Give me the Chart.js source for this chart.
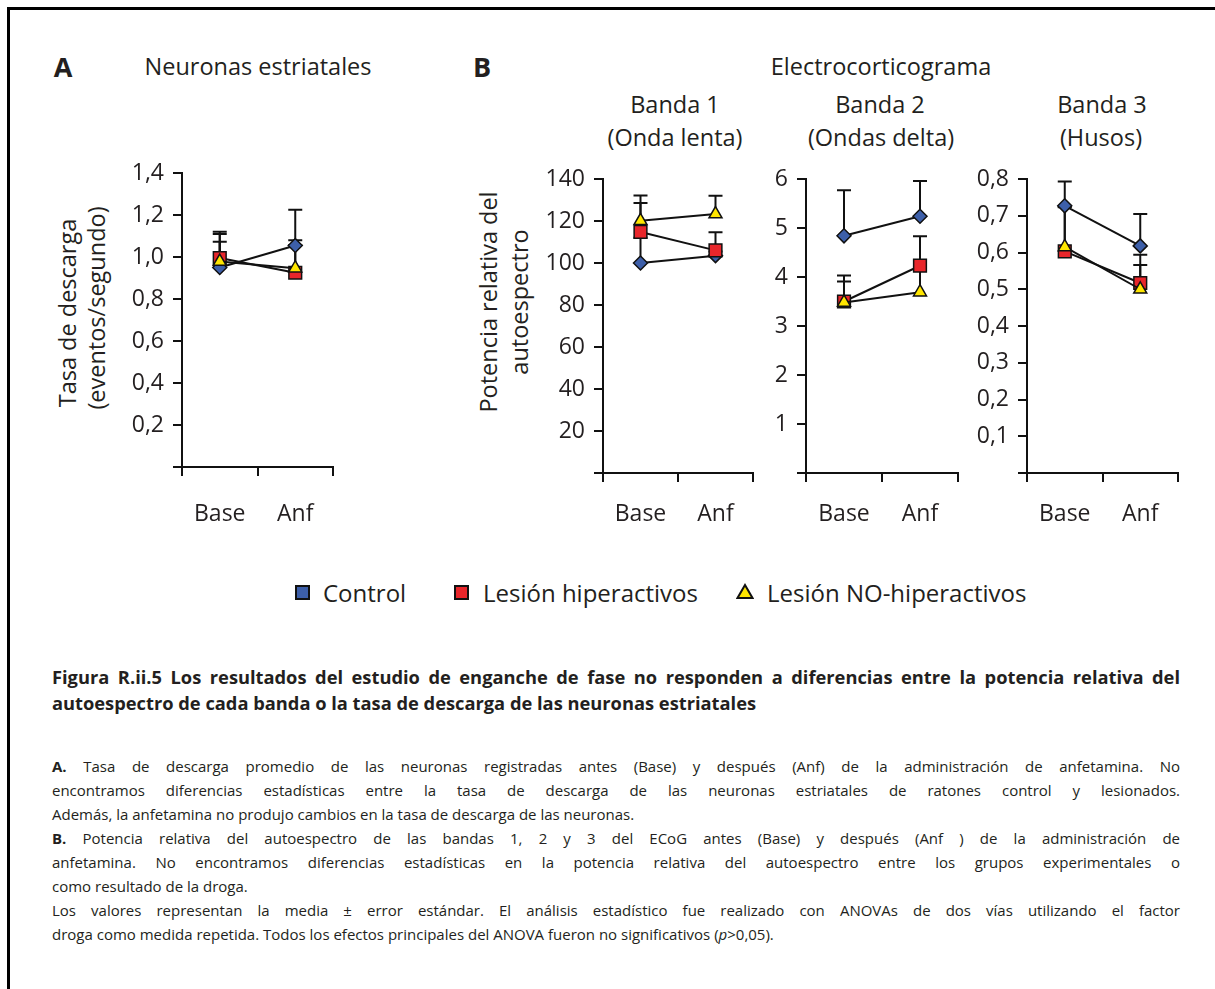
<!DOCTYPE html>
<html>
<head>
<meta charset="utf-8">
<script src="https://cdn.jsdelivr.net/npm/chart.js@4.4.1/dist/chart.umd.min.js"></script>
<style>
    body { margin: 0; background: #fff; font-family: "Open Sans", "Noto Sans", sans-serif; color: #231f20; }
    #page { position: relative; width: 1215px; height: 989px; overflow: hidden; }
    #frame { position: absolute; left: 7px; top: 7px; width: 1300px; height: 1100px; border-top: 3px solid #000; border-left: 3px solid #000; }
    .c { position: absolute; transform: translate(-50%, -50%); white-space: nowrap; font-size: 23.5px; }
    .bold { font-weight: 700; }
    .rot { position: absolute; white-space: nowrap; font-size: 23.5px; transform: translate(-50%, -50%) rotate(-90deg); }
    canvas { position: absolute; }
    .leg { position: absolute; font-size: 24px; white-space: nowrap; transform: translateY(-50%); }
    .mk { position: absolute; box-sizing: border-box; border: 2px solid #111; }
    #caption { position: absolute; left: 52px; top: 664px; width: 1128px; font-size: 15px; }
    #caption div { text-align: justify; text-align-last: justify; line-height: 24px; white-space: nowrap; }
    #caption div.last { text-align-last: left; }
    #caption .hd { font-weight: 700; line-height: 26px; font-size: 18.3px; }
</style>
</head>
<body>
<div id="page">
    <div id="frame"></div>

    <!-- Headers -->
    <div class="c bold" style="left:63px; top:66px; font-size:27px;">A</div>
    <div class="c" style="left:258px; top:66px;">Neuronas estriatales</div>
    <div class="c bold" style="left:482px; top:66px; font-size:27px;">B</div>
    <div class="c" style="left:881px; top:66px;">Electrocorticograma</div>
    <div class="c" style="left:675px; top:104px;">Banda 1</div>
    <div class="c" style="left:675px; top:137px;">(Onda lenta)</div>
    <div class="c" style="left:880px; top:104px;">Banda 2</div>
    <div class="c" style="left:881px; top:137px;">(Ondas delta)</div>
    <div class="c" style="left:1102px; top:104px;">Banda 3</div>
    <div class="c" style="left:1101px; top:137px;">(Husos)</div>

    <!-- Y axis titles -->
    <div class="rot" style="left:67px; top:313px;">Tasa de descarga</div>
    <div class="rot" style="left:96px; top:308px;">(eventos/segundo)</div>
    <div class="rot" style="left:488px; top:302px;">Potencia relativa del</div>
    <div class="rot" style="left:519px; top:302px;">autoespectro</div>

    <canvas id="chartA" width="245" height="380" style="left:100px; top:150px;"></canvas>
    <canvas id="chartB1" width="245" height="386" style="left:520px; top:150px;"></canvas>
    <canvas id="chartB2" width="225" height="386" style="left:745px; top:150px;"></canvas>
    <canvas id="chartB3" width="218" height="386" style="left:972px; top:150px;"></canvas>

    <!-- Legend -->
    <div class="mk" style="left:295px; top:585px; width:15px; height:15px; background:#3d5fa9;"></div>
    <div class="leg" style="left:323px; top:592px;">Control</div>
    <div class="mk" style="left:454px; top:585px; width:15px; height:15px; background:#e8262b;"></div>
    <div class="leg" style="left:483px; top:592px;">Lesión hiperactivos</div>
    <svg style="position:absolute; left:736px; top:583px;" width="18" height="17">
        <polygon points="9,2 16.5,15 1.5,15" fill="#ffe600" stroke="#111" stroke-width="2"/>
    </svg>
    <div class="leg" style="left:767px; top:592px;">Lesión NO-hiperactivos</div>

    <!-- Caption -->
    <div id="caption">
        <div class="hd">Figura R.ii.5 Los resultados del estudio de enganche de fase no responden a diferencias entre la potencia relativa del</div>
        <div class="hd last">autoespectro de cada banda o la tasa de descarga de las neuronas estriatales</div>
        <div style="height:38px;"></div>
        <div><b>A.</b> Tasa de descarga promedio de las neuronas registradas antes (Base) y después (Anf) de la administración de anfetamina. No</div>
        <div>encontramos diferencias estadísticas entre la tasa de descarga de las neuronas estriatales de ratones control y lesionados.</div>
        <div class="last">Además, la anfetamina no produjo cambios en la tasa de descarga de las neuronas.</div>
        <div><b>B.</b> Potencia relativa del autoespectro de las bandas 1, 2 y 3 del ECoG antes (Base) y después (Anf ) de la administración de</div>
        <div>anfetamina. No encontramos diferencias estadísticas en la potencia relativa del autoespectro entre los grupos experimentales o</div>
        <div class="last">como resultado de la droga.</div>
        <div>Los valores representan la media ± error estándar. El análisis estadístico fue realizado con ANOVAs de dos vías utilizando el factor</div>
        <div class="last">droga como medida repetida. Todos los efectos principales del ANOVA fueron no significativos (<i>p</i>&gt;0,05).</div>
    </div>
</div>

<script>
// Categories
const groups = ['Base', 'Anf'];

// Panel A - Neuronas estriatales (tasa de descarga)
const aControl = [0.95, 1.055];
const aControlErr = [0.16, 0.17];
const aHiper = [0.995, 0.925];
const aHiperErr = [0.125, 0.155];
const aNoHiper = [0.978, 0.947];
const aNoHiperErr = [0.095, 0.11];

// Panel B1 - Banda 1 (Onda lenta)
const b1Control = [100, 103.5];
const b1ControlErr = [12, 2];
const b1Hiper = [114.8, 106];
const b1HiperErr = [13.8, 8.6];
const b1NoHiper = [120.1, 123.3];
const b1NoHiperErr = [12, 8.7];

// Panel B2 - Banda 2 (Ondas delta)
const b2Control = [4.84, 5.24];
const b2ControlErr = [0.93, 0.72];
const b2Hiper = [3.5, 4.23];
const b2HiperErr = [0.53, 0.6];
const b2NoHiper = [3.48, 3.69];
const b2NoHiperErr = [0.43, 0.5];

// Panel B3 - Banda 3 (Husos)
const b3Control = [0.727, 0.618];
const b3ControlErr = [0.066, 0.087];
const b3Hiper = [0.603, 0.517];
const b3HiperErr = [0.12, 0.077];
const b3NoHiper = [0.615, 0.5];
const b3NoHiperErr = [0.11, 0.066];

const FONT = '"Open Sans", "Noto Sans", sans-serif';
const INK = '#111';

// Upper error bars, drawn under the lines and markers
const errorBars = {
    id: 'errorBars',
    beforeDatasetsDraw(chart) {
        const ctx = chart.ctx;
        const yScale = chart.scales.y;
        ctx.save();
        ctx.strokeStyle = INK;
        ctx.lineWidth = 2;
        chart.data.datasets.forEach((ds, i) => {
            const meta = chart.getDatasetMeta(i);
            meta.data.forEach((pt, j) => {
                const top = yScale.getPixelForValue(ds.data[j] + ds.errUp[j]);
                ctx.beginPath();
                ctx.moveTo(pt.x, pt.y);
                ctx.lineTo(pt.x, top);
                ctx.moveTo(pt.x - 7, top);
                ctx.lineTo(pt.x + 7, top);
                ctx.stroke();
            });
        });
        ctx.restore();
    }
};

function series(label, data, err, style, color, radius, order) {
    return {
        label: label,
        data: data,
        errUp: err,
        borderColor: INK,
        borderWidth: 2,
        tension: 0,
        pointStyle: style,
        pointRadius: radius,
        pointBackgroundColor: color,
        pointBorderColor: INK,
        pointBorderWidth: 1.5,
        order: order
    };
}

function makeChart(id, opts) {
    const ctx = document.getElementById(id).getContext('2d');
    return new Chart(ctx, {
        type: 'line',
        data: {
            labels: groups,
            datasets: [
                series('Control', opts.control, opts.controlErr, 'rectRot', '#3d5fa9', 7, 2),
                series('Lesión hiperactivos', opts.hiper, opts.hiperErr, 'rect', '#e8262b', 9, 1),
                series('Lesión NO-hiperactivos', opts.noHiper, opts.noHiperErr, 'triangle', '#ffe600', 7.5, 0)
            ]
        },
        options: {
            responsive: false,
            animation: false,
            events: [],
            layout: { padding: { top: opts.padTop, right: 12, left: 0, bottom: 0 } },
            plugins: { legend: { display: false }, tooltip: { enabled: false } },
            scales: {
                x: {
                    type: 'category',
                    offset: true,
                    grid: { offset: true, drawOnChartArea: false, drawTicks: true, tickLength: 9, color: INK, lineWidth: 2 },
                    border: { color: INK, width: 2 },
                    ticks: { color: '#231f20', font: { family: FONT, size: 23 }, padding: opts.xPad, maxRotation: 0 },
                    afterFit: s => { s.height = 63; }
                },
                y: {
                    min: 0,
                    max: opts.max,
                    grid: { drawOnChartArea: false, drawTicks: true, tickLength: 9, color: INK, lineWidth: 2 },
                    border: { color: INK, width: 2 },
                    ticks: {
                        stepSize: opts.step,
                        color: '#231f20',
                        font: { family: FONT, size: 23 },
                        padding: 9,
                        callback: v => v === 0 ? '' : v.toFixed(opts.dec).replace('.', ',')
                    },
                    afterFit: s => { s.width = opts.yWidth; }
                }
            }
        },
        plugins: [errorBars]
    });
}

makeChart('chartA', {
    control: aControl, controlErr: aControlErr, hiper: aHiper, hiperErr: aHiperErr,
    noHiper: aNoHiper, noHiperErr: aNoHiperErr,
    max: 1.4, step: 0.2, dec: 1, yWidth: 82, padTop: 23, xPad: 25
});
makeChart('chartB1', {
    control: b1Control, controlErr: b1ControlErr, hiper: b1Hiper, hiperErr: b1HiperErr,
    noHiper: b1NoHiper, noHiperErr: b1NoHiperErr,
    max: 140, step: 20, dec: 0, yWidth: 83, padTop: 29, xPad: 19
});
makeChart('chartB2', {
    control: b2Control, controlErr: b2ControlErr, hiper: b2Hiper, hiperErr: b2HiperErr,
    noHiper: b2NoHiper, noHiperErr: b2NoHiperErr,
    max: 6, step: 1, dec: 0, yWidth: 61, padTop: 29, xPad: 19
});
makeChart('chartB3', {
    control: b3Control, controlErr: b3ControlErr, hiper: b3Hiper, hiperErr: b3HiperErr,
    noHiper: b3NoHiper, noHiperErr: b3NoHiperErr,
    max: 0.8, step: 0.1, dec: 1, yWidth: 55, padTop: 29, xPad: 19
});
</script>
</body>
</html>
